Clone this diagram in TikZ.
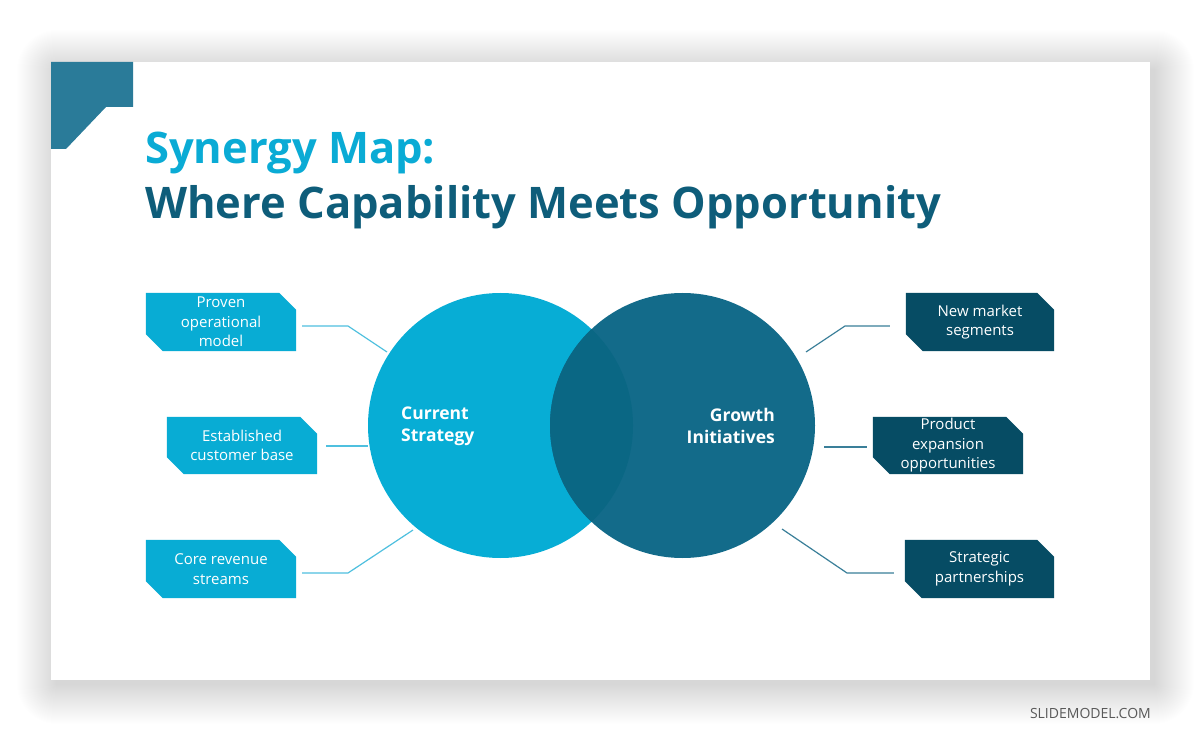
\documentclass[tikz,border=0pt]{standalone}
\usepackage{fontspec}
\setmainfont{Open Sans}
\usetikzlibrary{calc}
\pgfdeclarelayer{back}
\pgfdeclarelayer{bg}
\pgfsetlayers{back,bg,main}
\definecolor{cyanA}{HTML}{07ADD5}
\definecolor{tealB}{HTML}{136B8A}
\definecolor{tealOv}{HTML}{0A6784}
\definecolor{boxL}{HTML}{08ACD4}
\definecolor{boxR}{HTML}{064C64}
\definecolor{lineL}{HTML}{4FC0DF}
\definecolor{lineR}{HTML}{3A7F99}
\definecolor{cornerC}{HTML}{2A7B99}
\definecolor{titleA}{HTML}{0AABD5}
\definecolor{titleB}{HTML}{0E5D7A}
\definecolor{footC}{HTML}{595959}
\newcommand\cutshape[2]{%
  \begin{pgfonlayer}{bg}
  \fill[#2] (#1.north west) -- ($(#1.north east)+(-17,0)$) -- ($(#1.north east)+(0,17)$)
    -- (#1.south east) -- ($(#1.south west)+(17,0)$) -- ($(#1.south west)+(0,-17)$) -- cycle;
  \end{pgfonlayer}}
\tikzset{
  boxtxt/.style={inner sep=0pt, minimum width=150pt, minimum height=58pt, align=center,
    text=white, font=\fontsize{15}{19.5}\selectfont},
  circtxt/.style={inner sep=0pt, text=white, font=\bfseries\fontsize{17.5}{22}\selectfont},
  connL/.style={draw=lineL, line width=1.2pt},
  connR/.style={draw=lineR, line width=1.2pt},
}
\begin{document}
\begin{tikzpicture}[x=1pt,y=-1pt]
\useasboundingbox (0,0) rectangle (1200,743);
\begin{pgfonlayer}{back}
\fill[white] (0,0) rectangle (1200,743);
% shadow
\foreach \i in {1,...,40}{
  \fill[black,opacity=0.0045,rounded corners=\i pt] (57-\i,70-\i) rectangle (1154+\i,684+\i);
}
% slide
\fill[white] (51,62) rectangle (1150,680);
\end{pgfonlayer}
% corner decoration
\fill[cornerC] (51,62) -- (133,62) -- (133,107) -- (106,107) -- (66,149) -- (51,149) -- cycle;
% title
\node[anchor=base west, inner sep=0pt, text=titleA, font=\bfseries\fontsize{43.5}{50}\selectfont] (title1) at (145,164) {Synergy Map:};
\node[anchor=base west, inner sep=0pt, text=titleB, font=\bfseries\fontsize{43.5}{50}\selectfont] (title2) at (145,219) {Where Capability Meets Opportunity};
% circles
\node[circle, minimum size=265pt, inner sep=0pt, fill=cyanA] (c1) at (500.5,425.5) {};
\node[circle, minimum size=265pt, inner sep=0pt, fill=tealB] (c2) at (682.5,425.5) {};
\begin{scope}
  \clip (500.5,425.5) circle (132.5);
  \fill[tealOv] (682.5,425.5) circle (132.5);
\end{scope}
\node[circtxt, anchor=west, align=left] (t1) at (401,426) {Current\\Strategy};
\node[circtxt, anchor=east, align=right] (t2) at (775,426) {Growth\\Initiatives};
% boxes
\node[boxtxt] (b1) at (221,322) {Proven\\operational\\model};
\node[boxtxt, minimum height=57pt] (b2) at (242,445.5) {Established\\customer base};
\node[boxtxt] (b3) at (221,569) {Core revenue\\streams};
\node[boxtxt, minimum width=148pt] (b4) at (980,322) {New market\\segments};
\node[boxtxt, minimum height=57pt] (b5) at (948,445.5) {Product\\expansion\\opportunities};
\node[boxtxt, minimum width=149pt] (b6) at (979.5,569) {Strategic\\partnerships};
\cutshape{b1}{boxL}
\cutshape{b2}{boxL}
\cutshape{b3}{boxL}
\cutshape{b4}{boxR}
\cutshape{b5}{boxR}
\cutshape{b6}{boxR}
% connector points
\coordinate (k1) at (348,326);
\coordinate (e1) at (387,352);
\coordinate (e2) at (368,446);
\coordinate (k3) at (348,573);
\coordinate (e3) at (413,530);
\coordinate (k4) at (845,326);
\coordinate (e4) at (806,352);
\coordinate (e5) at (824,447);
\coordinate (k6) at (847,573);
\coordinate (e6) at (782,529);
\draw[connL] ($(b1.east)+(6,4)$) -- (k1) -- (e1);
\draw[connL] ($(b2.east)+(9,0.5)$) -- (e2);
\draw[connL] ($(b3.east)+(6,4)$) -- (k3) -- (e3);
\draw[connR] ($(b4.west)+(-16,4)$) -- (k4) -- (e4);
\draw[connR] ($(b5.west)+(-6,1.5)$) -- (e5);
\draw[connR] ($(b6.west)+(-11,4)$) -- (k6) -- (e6);
% footer
\node[anchor=base east, inner sep=0pt, text=footC, font=\fontsize{14}{16}\selectfont] (foot) at (1151,718) {SLIDEMODEL.COM};
\end{tikzpicture}
\end{document}
